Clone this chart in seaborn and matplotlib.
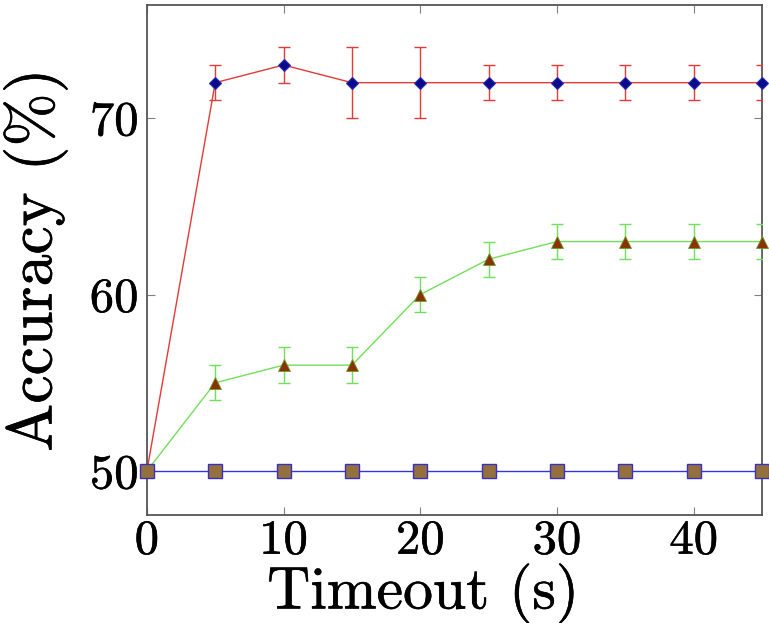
import numpy as np
import pandas as pd
import matplotlib
matplotlib.use("Agg")
import matplotlib.pyplot as plt
import matplotlib.patheffects as pe
import seaborn as sns

timeout = [0, 5, 10, 15, 20, 25, 30, 35, 40, 45]

red_acc = [50, 72, 73, 72, 72, 72, 72, 72, 72, 72]
red_err = [0, 1, 1, 2, 2, 1, 1, 1, 1, 1]

green_acc = [50, 55, 56, 56, 60, 62, 63, 63, 63, 63]
green_err = [0, 1, 1, 1, 1, 1, 1, 1, 1, 1]

blue_acc = [50, 50, 50, 50, 50, 50, 50, 50, 50, 50]

xticks = [0, 10, 20, 30, 40]
yticks = [50, 60, 70]

sns.set_theme(style="ticks")
plt.rcParams["font.family"] = ["cmr10", "DejaVu Serif"]
plt.rcParams["mathtext.fontset"] = "cm"
plt.rcParams["axes.formatter.use_mathtext"] = True
plt.rcParams["text.color"] = "black"
plt.rcParams["xtick.labelcolor"] = "black"
plt.rcParams["ytick.labelcolor"] = "black"
plt.rcParams["axes.labelcolor"] = "black"

df = pd.DataFrame({
    "Timeout": timeout * 3,
    "Accuracy": red_acc + green_acc + blue_acc,
    "series": ["red"] * 10 + ["green"] * 10 + ["blue"] * 10,
})

fig = plt.figure(figsize=(7.69, 6.23), dpi=100)
ax = fig.add_axes([0.191, 0.173, 0.8, 0.819])

line_colors = {"red": "#e23a36", "green": "#70e058", "blue": "#3434e0"}
sns.lineplot(data=df, x="Timeout", y="Accuracy", hue="series",
             palette=line_colors, linewidth=1.0, legend=False, ax=ax, zorder=2)

# error bars (first point has none)
ax.errorbar(timeout[1:], red_acc[1:], yerr=red_err[1:], fmt="none",
            ecolor="#e23a36", elinewidth=1.0, capsize=4.5, capthick=1.0, zorder=3)
ax.errorbar(timeout[1:], green_acc[1:], yerr=green_err[1:], fmt="none",
            ecolor="#70e058", elinewidth=1.0, capsize=4.5, capthick=1.0, zorder=3)

# markers
ax.plot(timeout, red_acc, linestyle="none", marker="D", markersize=6.5,
        markerfacecolor="#0a0a8c", markeredgecolor="#2a2ab0",
        markeredgewidth=0.8, clip_on=False, zorder=5)
ax.plot(timeout, green_acc, linestyle="none", marker="^", markersize=8,
        markerfacecolor="#8b3300", markeredgecolor="#6a9a30",
        markeredgewidth=0.6, clip_on=False, zorder=5)
ax.plot(timeout, blue_acc, linestyle="none", marker="s", markersize=9.5,
        markerfacecolor="#94703f", markeredgecolor="#3a30c0",
        markeredgewidth=1.0, clip_on=False, zorder=5)

ax.set_xlim(0, 45)
ax.set_ylim(47.5, 76.4)
ax.set_xticks(xticks)
ax.set_yticks(yticks)
ax.set_xticklabels([str(t) for t in xticks])
ax.set_yticklabels([str(t) for t in yticks])

ax.tick_params(axis="both", direction="in", length=6, width=0.8, color="#808080",
               labelsize=35, top=True, right=True, pad=6)
ax.tick_params(axis="x", pad=3)
for side in ax.spines.values():
    side.set_visible(True)
    side.set_color("#555555")
    side.set_linewidth(1.3)

bold = [pe.withStroke(linewidth=0.4, foreground="black")]
for lab in ax.get_xticklabels() + ax.get_yticklabels():
    lab.set_path_effects(bold)

ax.set_xlabel("Timeout (s)", fontsize=43, path_effects=bold)
ax.set_ylabel("Accuracy (%)", fontsize=46, path_effects=bold)
ax.xaxis.set_label_coords(0.449, -0.094)
ax.xaxis.label.set_verticalalignment("top")
ax.yaxis.set_label_coords(-0.182, 0.5)
ax.yaxis.label.set_verticalalignment("center")
ax.grid(False)

fig.savefig("out.png", dpi=100)
